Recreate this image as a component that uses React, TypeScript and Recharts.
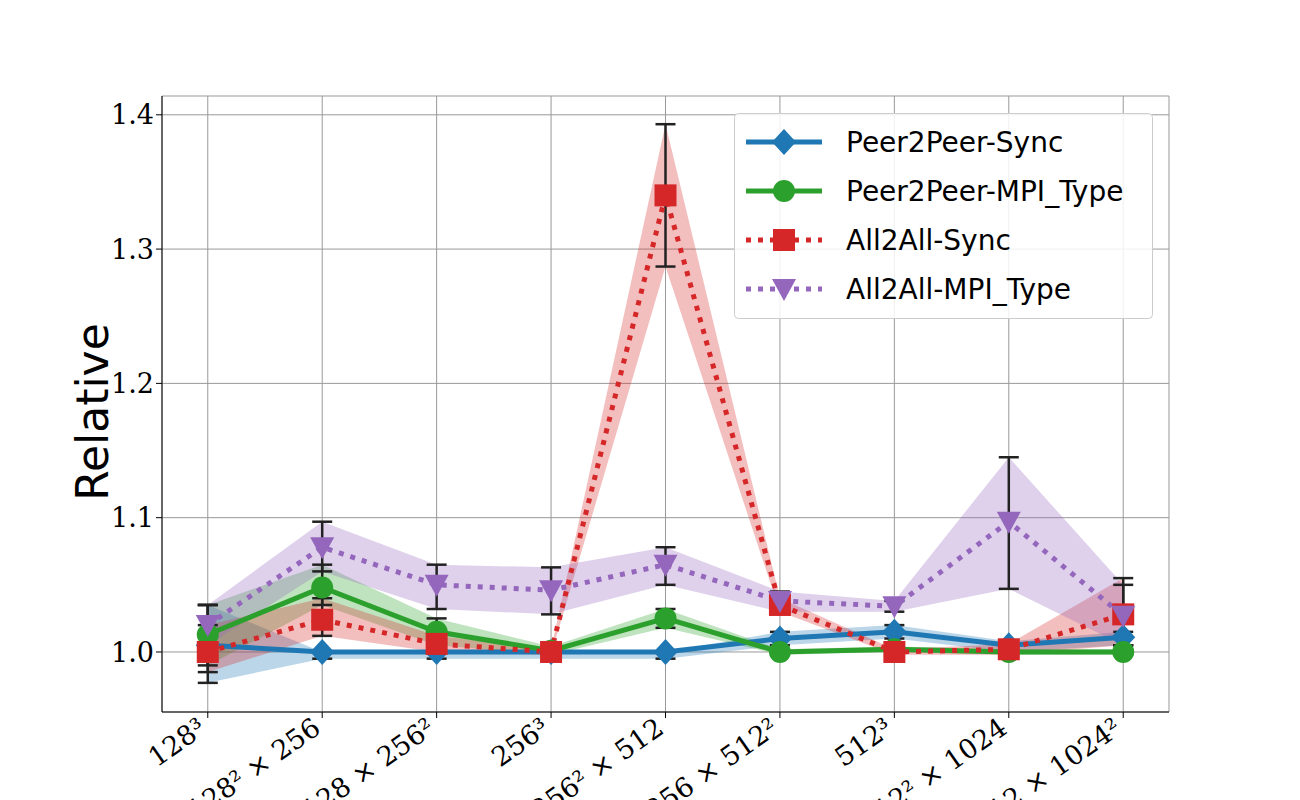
import { ComposedChart, Line, Area, XAxis, YAxis, CartesianGrid, ErrorBar } from "recharts";

const categories = ["128³", "128² × 256", "128 × 256²", "256³", "256² × 512", "256 × 512²", "512³", "512² × 1024", "512 × 1024²"];

const p2pSync = [1.005, 1.0, 1.0, 1.0, 1.0, 1.01, 1.015, 1.005, 1.011];
const p2pSyncLo = [0.977, 0.995, 0.995, 0.995, 0.995, 1.005, 1.01, 1.0, 1.005];
const p2pSyncHi = [1.035, 1.0, 1.0, 1.0, 1.0, 1.015, 1.02, 1.008, 1.015];

const p2pMpi = [1.013, 1.048, 1.015, 1.001, 1.025, 1.0, 1.002, 1.0, 1.0];
const p2pMpiLo = [0.99, 1.035, 1.005, 0.998, 1.018, 0.998, 1.0, 0.998, 0.998];
const p2pMpiHi = [1.035, 1.065, 1.025, 1.004, 1.032, 1.002, 1.004, 1.002, 1.002];

const a2aSync = [1.0, 1.024, 1.006, 1.0, 1.34, 1.035, 1.0, 1.002, 1.028];
const a2aSyncLo = [0.985, 1.012, 1.0, 0.998, 1.287, 1.03, 0.998, 0.998, 1.005];
const a2aSyncHi = [1.02, 1.04, 1.012, 1.002, 1.393, 1.04, 1.002, 1.006, 1.055];

const a2aMpi = [1.02, 1.078, 1.05, 1.046, 1.065, 1.038, 1.034, 1.097, 1.027];
const a2aMpiLo = [1.005, 1.06, 1.032, 1.028, 1.05, 1.03, 1.03, 1.047, 1.005];
const a2aMpiHi = [1.035, 1.097, 1.065, 1.063, 1.078, 1.045, 1.038, 1.145, 1.05];

const yTicks = [1.0, 1.1, 1.2, 1.3, 1.4];

const BLUE = "#1f77b4";
const GREEN = "#2ca02c";
const RED = "#d62728";
const PURPLE = "#9467bd";

const data = categories.map((c, i) => ({
  x: i,
  ps: p2pSync[i], psBand: [p2pSyncLo[i], p2pSyncHi[i]], psErr: [p2pSync[i] - p2pSyncLo[i], p2pSyncHi[i] - p2pSync[i]],
  pm: p2pMpi[i], pmBand: [p2pMpiLo[i], p2pMpiHi[i]], pmErr: [p2pMpi[i] - p2pMpiLo[i], p2pMpiHi[i] - p2pMpi[i]],
  as: a2aSync[i], asBand: [a2aSyncLo[i], a2aSyncHi[i]], asErr: [a2aSync[i] - a2aSyncLo[i], a2aSyncHi[i] - a2aSync[i]],
  am: a2aMpi[i], amBand: [a2aMpiLo[i], a2aMpiHi[i]], amErr: [a2aMpi[i] - a2aMpiLo[i], a2aMpiHi[i] - a2aMpi[i]],
}));

const Diamond = (p: any) => <polygon points={`${p.cx},${p.cy - 13} ${p.cx + 12},${p.cy} ${p.cx},${p.cy + 13} ${p.cx - 12},${p.cy}`} fill={BLUE} />;
const Circle = (p: any) => <circle cx={p.cx} cy={p.cy} r={11} fill={GREEN} />;
const Square = (p: any) => <rect x={p.cx - 11} y={p.cy - 11} width={22} height={22} fill={RED} />;
const Tri = (p: any) => <polygon points={`${p.cx - 12},${p.cy - 10} ${p.cx + 12},${p.cy - 10} ${p.cx},${p.cy + 12}`} fill={PURPLE} />;

const XTick = (p: any) => (
  <text x={p.x} y={p.y + 12} textAnchor="end" fontSize={27} fontFamily="DejaVu Serif" fill="#000" transform={`rotate(-35 ${p.x} ${p.y + 12})`}>
    {categories[p.payload.value]}
  </text>
);

const legendItems = [
  { name: "Peer2Peer-Sync", color: BLUE, dash: false, shape: "d" },
  { name: "Peer2Peer-MPI_Type", color: GREEN, dash: false, shape: "c" },
  { name: "All2All-Sync", color: RED, dash: true, shape: "s" },
  { name: "All2All-MPI_Type", color: PURPLE, dash: true, shape: "t" },
];

function LegendBox() {
  return (
    <svg style={{ position: "absolute", left: 726, top: 105 }} width={420} height={208}>
      <rect x={0.5} y={0.5} width={418} height={205} rx={4} fill="rgba(255,255,255,0.85)" stroke="#ccc" />
      {legendItems.map((it, i) => {
        const y = 29 + i * 49;
        return (
          <g key={it.name}>
            <line x1={12} x2={88} y1={y} y2={y} stroke={it.color} strokeWidth={5} strokeDasharray={it.dash ? "5 7" : undefined} />
            {it.shape === "d" && <Diamond cx={50} cy={y} />}
            {it.shape === "c" && <Circle cx={50} cy={y} />}
            {it.shape === "s" && <Square cx={50} cy={y} />}
            {it.shape === "t" && <Tri cx={50} cy={y} />}
            <text x={112} y={y + 10} fontSize={28} fontFamily="DejaVu Sans">{it.name}</text>
          </g>
        );
      })}
    </svg>
  );
}

export default function App() {
  return (
    <div style={{ position: "relative", width: 1292, height: 792 }}>
      <ComposedChart width={1292} height={792} data={data} margin={{ top: 88, right: 131, left: 94, bottom: 0 }}>
        <CartesianGrid stroke="#999" strokeWidth={1} />
        <XAxis dataKey="x" type="number" domain={[-0.4, 8.4]} ticks={[0, 1, 2, 3, 4, 5, 6, 7, 8]} height={88} tick={<XTick />} axisLine={{ stroke: "#000" }} tickLine={{ stroke: "#000" }} interval={0} />
        <YAxis type="number" domain={[0.9553, 1.414]} ticks={yTicks} width={60} tickFormatter={(v: number) => v.toFixed(1)} tick={{ fontSize: 27, fontFamily: "DejaVu Serif", fill: "#000" }} axisLine={{ stroke: "#000" }} tickLine={{ stroke: "#000" }} allowDataOverflow />
        <Area dataKey="psBand" fill={BLUE} fillOpacity={0.3} stroke="none" isAnimationActive={false} />
        <Area dataKey="pmBand" fill={GREEN} fillOpacity={0.3} stroke="none" isAnimationActive={false} />
        <Area dataKey="asBand" fill={RED} fillOpacity={0.3} stroke="none" isAnimationActive={false} />
        <Area dataKey="amBand" fill={PURPLE} fillOpacity={0.3} stroke="none" isAnimationActive={false} />
        <Line dataKey="ps" stroke={BLUE} strokeWidth={5} dot={<Diamond />} activeDot={false} isAnimationActive={false}>
          <ErrorBar dataKey="psErr" stroke="#222" strokeWidth={2.5} width={10} />
        </Line>
        <Line dataKey="pm" stroke={GREEN} strokeWidth={5} dot={<Circle />} activeDot={false} isAnimationActive={false}>
          <ErrorBar dataKey="pmErr" stroke="#222" strokeWidth={2.5} width={10} />
        </Line>
        <Line dataKey="as" stroke={RED} strokeWidth={5} strokeDasharray="5 7" dot={<Square />} activeDot={false} isAnimationActive={false}>
          <ErrorBar dataKey="asErr" stroke="#222" strokeWidth={2.5} width={10} />
        </Line>
        <Line dataKey="am" stroke={PURPLE} strokeWidth={5} strokeDasharray="5 7" dot={<Tri />} activeDot={false} isAnimationActive={false}>
          <ErrorBar dataKey="amErr" stroke="#222" strokeWidth={2.5} width={10} />
        </Line>
        <text x={88} y={404} transform="rotate(-90 88 404)" textAnchor="middle" dominantBaseline="middle" fontSize={44} fontFamily="DejaVu Sans">Relative</text>
      </ComposedChart>
      <LegendBox />
    </div>
  );
}
